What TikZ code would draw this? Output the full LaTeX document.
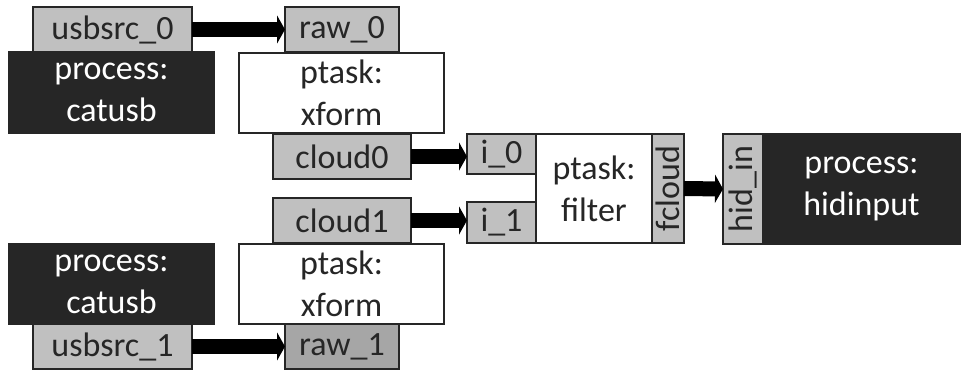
\documentclass[tikz,border=0pt]{standalone}
\usepackage{fontspec}
\setmainfont{Carlito}
\usepackage{tikz}
\usetikzlibrary{arrows.meta, positioning}

\definecolor{portgray}{HTML}{C0C0C0}
\definecolor{portdark}{HTML}{A6A6A6}
\definecolor{procblack}{HTML}{262626}

\begin{document}
\begin{tikzpicture}[x=0.5pt, y=-0.5pt, line width=1pt,
  every node/.style={align=center, inner sep=0pt, outer sep=0pt, anchor=north west,
    font=\fontsize{17}{21}\selectfont, text=procblack},
  port/.style={draw=procblack, fill=portgray, minimum height=22.5pt},
  process/.style={draw=procblack, fill=procblack, text=white, minimum width=102.5pt},
  ptask/.style={draw=procblack, fill=white},
  flow/.style={line width=7.5pt, -{Triangle[width=14pt,length=4pt]}}]
\useasboundingbox (0,0) rectangle (961,371);
% top source
\node (usbsrc0)  [port, minimum width=79.5pt]                 at (33,7)    {usbsrc\_0};
\node (raw0)     [port, minimum width=57pt]                   at (285,7)   {raw\_0};
\node (catusb0)  [process, minimum height=40.5pt]             at (9,52)    {process:\\catusb};
\node (xform0)   [ptask, minimum width=102.5pt, minimum height=40pt] at (239,53) {ptask:\\xform};
\node (cloud0)   [port, minimum width=69pt]                   at (273,134) {cloud0};
% bottom source
\node (catusb1)  [process, minimum height=40pt]               at (9,244)   {process:\\catusb};
\node (xform1)   [ptask, minimum width=102.5pt, minimum height=40pt] at (239,244) {ptask:\\xform};
\node (cloud1)   [port, minimum width=69pt]                   at (273,198) {cloud1};
\node (usbsrc1)  [port, minimum width=79.5pt]                 at (33,324)  {usbsrc\_1};
\node (raw1)     [port, fill=portdark, minimum width=57pt]    at (285,324) {raw\_1};
% filter
\node (i0)       [port, minimum width=34.5pt, minimum height=20pt]   at (467,134) {i\_0};
\node (i1)       [port, minimum width=34.5pt, minimum height=20.5pt] at (467,202) {i\_1};
\node (filter)   [ptask, minimum width=58pt, minimum height=54.5pt]  at (536,134) {ptask:\\filter};
\node (fcloud)   [port, anchor=center, rotate=90, minimum width=54.5pt, minimum height=16pt] at (668,188.5) {fcloud};
% sink
\node (hidin)    [port, anchor=center, rotate=90, minimum width=55pt, minimum height=20pt] at (743,189) {hid\_in};
\node (hidinput) [process, minimum width=98.5pt, minimum height=55pt] at (763,134) {process:\\hidinput};

\draw[flow] (usbsrc0.east) -- (raw0.west);
\draw[flow] (usbsrc1.east) -- (raw1.west);
\draw[flow] (cloud0.east)  -- (cloud0.east -| i0.west);
\draw[flow] (cloud1.east)  -- (cloud1.east -| i1.west);
\draw[flow] (fcloud.south) -- (hidin.north);
\end{tikzpicture}
\end{document}
